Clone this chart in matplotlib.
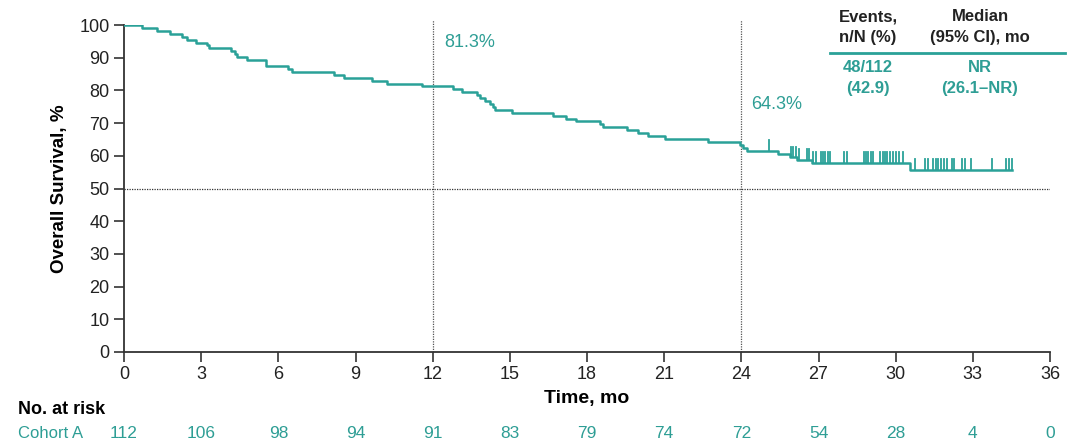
import numpy as np
import matplotlib
matplotlib.use("Agg")
import matplotlib.pyplot as plt

plt.rcParams['font.family'] = ['Liberation Sans', 'DejaVu Sans']

TEAL = '#2AA198'
TEAL_TXT = '#2E9E95'

# Kaplan-Meier step data (months, % surviving after each event)
event_times = [0.69, 1.27, 1.79, 2.24, 2.44, 2.80, 3.24, 3.30, 4.16, 4.32, 4.41, 4.77,
               5.51, 6.39, 6.52, 8.18, 8.57, 9.65, 10.21, 11.60, 12.80, 13.13, 13.71,
               13.84, 14.04, 14.23, 14.36, 14.42, 15.07, 16.69, 17.19, 17.57, 18.51,
               18.64, 19.54, 20.00, 20.39, 21.03, 22.72, 23.95, 24.08, 24.21, 25.44,
               25.89, 26.15, 26.74, 30.56]
event_surv = [99.1, 98.2, 97.3, 96.4, 95.5, 94.6, 93.8, 92.9, 92.0, 91.1, 90.2, 89.3,
              87.5, 86.6, 85.7, 84.8, 83.9, 83.0, 82.1, 81.3, 80.4, 79.5, 78.6,
              77.7, 76.8, 75.9, 75.0, 74.1, 73.2, 72.3, 71.4, 70.5, 69.6,
              68.7, 67.8, 66.9, 66.0, 65.2, 64.3, 63.4, 62.5, 61.6, 60.6,
              59.5, 58.7, 57.8, 55.7]

censor_times = [25.08, 25.93, 26.02, 26.11, 26.24, 26.54, 26.62, 26.80, 26.91, 27.09,
                27.16, 27.25, 27.35, 27.45, 27.99, 28.12, 28.75, 28.85, 28.94, 29.03,
                29.13, 29.39, 29.50, 29.59, 29.68, 29.78, 29.89, 30.00, 30.14, 30.30,
                30.75, 31.14, 31.27, 31.47, 31.56, 31.66, 31.75, 31.86, 32.01, 32.18,
                32.27, 32.59, 32.70, 32.92, 33.74, 34.29, 34.42, 34.51]

landmark_times = [12, 24]
landmark_labels = ['81.3%', '64.3%']

risk_times = list(range(0, 37, 3))
risk_counts = [112, 106, 98, 94, 91, 83, 79, 74, 72, 54, 28, 4, 0]

events_text = '48/112\n(42.9)'
median_text = 'NR\n(26.1–NR)'

W, H = 1084, 442
fig = plt.figure(figsize=(W / 100, H / 100), dpi=100)
ax = fig.add_axes([124 / W, 1 - 352 / H, (1050 - 124) / W, (352 - 25) / H])


def surv_at(t):
    s = 100.0
    for et, es in zip(event_times, event_surv):
        if et <= t:
            s = es
    return s


end_t = max(censor_times)
xs = [0] + event_times + [end_t]
ys = [100] + event_surv + [event_surv[-1]]
ax.step(xs, ys, where='post', color=TEAL, lw=1.8, zorder=3)

# censor ticks
for ct in censor_times:
    s = surv_at(ct)
    ax.plot([ct, ct], [s, s + 3.3], color=TEAL, lw=1.3, zorder=3)

# reference lines
ax.axhline(50, color='#333333', lw=0.9, ls=(0, (1, 1)), zorder=1)
for lt in landmark_times:
    ax.plot([lt, lt], [0, 101.5], color='#555555', lw=0.9, ls=(0, (1, 1)),
            clip_on=False, zorder=1)

ax.text(12.45, 94.5, landmark_labels[0], color=TEAL_TXT, fontsize=13, va='center', ha='left')
ax.text(24.4, 75.8, landmark_labels[1], color=TEAL_TXT, fontsize=13, va='center', ha='left')

ax.set_xlim(0, 36)
ax.set_ylim(0, 100)
ax.set_xticks(range(0, 37, 3))
ax.set_yticks(range(0, 101, 10))
ax.tick_params(axis='both', labelsize=13, length=7, width=1.2, color='#333333',
               labelcolor='#222222')
ax.tick_params(axis='x', pad=3)
for side in ['top', 'right']:
    ax.spines[side].set_visible(False)
for side in ['left', 'bottom']:
    ax.spines[side].set_linewidth(1.3)
    ax.spines[side].set_color('#333333')

ax.set_ylabel('Overall Survival, %', fontsize=13.5, fontweight='bold', labelpad=8)
fig.text(587 / W, 1 - 398 / H, 'Time, mo', fontsize=14, fontweight='bold',
         ha='center', va='center')

# number at risk
fig.text(18 / W, 1 - 410 / H, 'No. at risk', fontsize=13, fontweight='bold',
         ha='left', va='center')
fig.text(18 / W, 1 - 433 / H, 'Cohort A', fontsize=12, color=TEAL_TXT,
         ha='left', va='center')
for t, n in zip(risk_times, risk_counts):
    x_fig = (124 + t / 36 * (1050 - 124)) / W
    fig.text(x_fig, 1 - 433 / H, str(n), fontsize=12.5, color=TEAL_TXT,
             ha='center', va='center')

# summary table
fig.text(868 / W, 1 - 27 / H, 'Events,\nn/N (%)', fontsize=12, fontweight='bold',
         ha='center', va='center', color='#222222', linespacing=1.45)
fig.text(980 / W, 1 - 27 / H, 'Median\n(95% CI), mo', fontsize=12, fontweight='bold',
         ha='center', va='center', color='#222222', linespacing=1.45)
fig.add_artist(plt.Line2D([830 / W, 1065 / W], [1 - 53 / H, 1 - 53 / H],
                          color=TEAL, lw=2))
fig.text(868 / W, 1 - 78 / H, events_text, fontsize=12, fontweight='bold',
         ha='center', va='center', color=TEAL_TXT, linespacing=1.45)
fig.text(980 / W, 1 - 78 / H, median_text, fontsize=12, fontweight='bold',
         ha='center', va='center', color=TEAL_TXT, linespacing=1.45)

fig.savefig('out.png', dpi=100)
